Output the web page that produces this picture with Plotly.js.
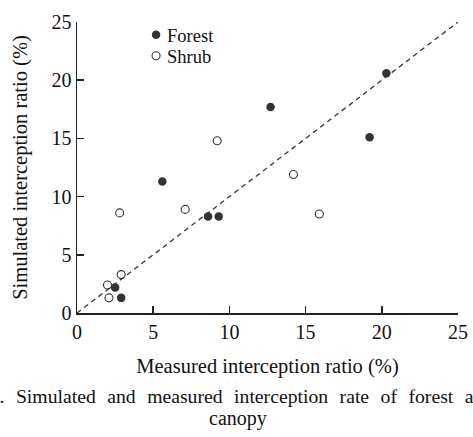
<!DOCTYPE html>
<html>
<head>
<meta charset="utf-8">
<script src="https://cdn.plot.ly/plotly-3.0.1.min.js"></script>
<style>html,body{margin:0;padding:0;background:#fff;}#chart{width:473px;height:437px;}</style>
</head>
<body>
<div id="chart"></div>
<script>
// Data
const forestX = [20.3, 12.7, 19.2, 5.6, 8.6, 9.3, 2.5, 2.9];
const forestY = [20.6, 17.7, 15.1, 11.3, 8.3, 8.3, 2.2, 1.3];
const shrubX = [9.2, 14.2, 7.1, 2.8, 15.9, 2.9, 2.0, 2.1];
const shrubY = [14.8, 11.9, 8.9, 8.6, 8.5, 3.3, 2.4, 1.3];
const lineX = [0, 25];
const lineY = [0, 25];
const tickVals = [0, 5, 10, 15, 20, 25];
const tickText = ['0', '5', '10', '15', '20', '25'];
const xTitle = 'Measured interception ratio (%)';
const yTitle = 'Simulated interception ratio (%)';
const captionWords = ['Fig.', '2.', 'Simulated', 'and', 'measured', 'interception', 'rate', 'of', 'forest', 'and', 'shrub'];
const captionLine2 = 'canopy';

const FONT = '"Liberation Serif", "Times New Roman", serif';
const INK = '#222';
const GAP = '\u00A0\u00A0\u200A';

const traces = [
  {x: lineX, y: lineY, mode: 'lines', showlegend: false, hoverinfo: 'skip',
   line: {color: '#333', width: 1.3, dash: '5px,4px'}},
  {x: forestX, y: forestY, mode: 'markers', name: 'Forest',
   marker: {symbol: 'circle', size: 8.5, color: '#333', line: {width: 0}}},
  {x: shrubX, y: shrubY, mode: 'markers', name: 'Shrub',
   marker: {symbol: 'circle-open', size: 8, color: '#333', line: {width: 1.1}}}
];

const axisCommon = {
  range: [0, 25], tickvals: tickVals, ticktext: tickText,
  showline: true, linecolor: INK, linewidth: 1.5,
  ticks: 'inside', ticklen: 7, tickwidth: 1.5, tickcolor: INK,
  showgrid: false, zeroline: false,
  tickfont: {family: FONT, size: 20, color: '#111'},
  fixedrange: true
};

const layout = {
  width: 473, height: 437,
  margin: {l: 77, r: 15, t: 22, b: 124},
  paper_bgcolor: '#fff', plot_bgcolor: '#fff',
  font: {family: FONT, color: '#111'},
  xaxis: Object.assign({}, axisCommon, {
    title: {text: xTitle, font: {family: FONT, size: 20.5, color: '#111'}, standoff: 17}
  }),
  yaxis: Object.assign({}, axisCommon, {
    title: {text: yTitle, font: {family: FONT, size: 20.5, color: '#111'}, standoff: 18}
  }),
  showlegend: true,
  legend: {x: 0.155, y: 1.02, xanchor: 'left', yanchor: 'top',
    bgcolor: 'rgba(0,0,0,0)', borderwidth: 0,
    font: {family: FONT, size: 18.5, color: '#111'}, tracegroupgap: 0},
  annotations: [
    {xref: 'paper', yref: 'paper', x: -0.3475, y: -0.285, xanchor: 'left', yanchor: 'middle',
     text: captionWords.join(GAP), showarrow: false,
     font: {family: FONT, size: 19.7, color: '#111'}},
    {xref: 'paper', yref: 'paper', x: 0.4226, y: -0.361, xanchor: 'center', yanchor: 'middle',
     text: captionLine2, showarrow: false,
     font: {family: FONT, size: 20, color: '#111'}}
  ]
};

Plotly.newPlot('chart', traces, layout, {displayModeBar: false, staticPlot: true}).then(function () {
  // tighten the legend symbol/label gap and the row spacing, as in the reference
  document.querySelectorAll('#chart .legendtext').forEach(function (t) {
    t.setAttribute('x', 31);
  });
  document.querySelectorAll('#chart .legend .traces').forEach(function (g, i) {
    var tr = g.getAttribute('transform') || '';
    var m = /translate\(\s*([-\d.e]+)[ ,]+([-\d.e]+)\s*\)/.exec(tr);
    if (m) {
      g.setAttribute('transform', 'translate(' + m[1] + ',' + (parseFloat(m[2]) - 6 * i) + ')');
    }
  });
});
</script>
</body>
</html>
